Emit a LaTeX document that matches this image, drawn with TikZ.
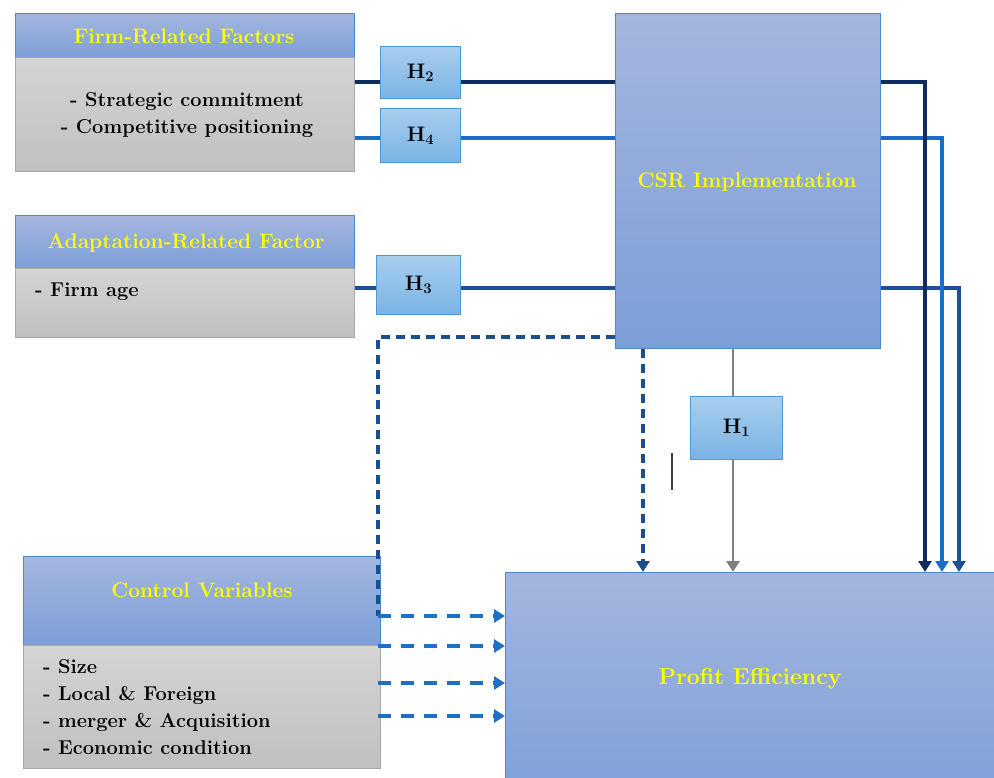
\documentclass[tikz,border=0pt]{standalone}
\usetikzlibrary{arrows.meta}
\definecolor{hdrtop}{HTML}{A4B6DE}
\definecolor{hdrbot}{HTML}{7C9ED8}
\definecolor{hdredge}{HTML}{4F86CE}
\definecolor{greytop}{HTML}{D4D4D4}
\definecolor{greybot}{HTML}{C0C0C0}
\definecolor{greyedge}{HTML}{A8A8A8}
\definecolor{htop}{HTML}{A8CEEE}
\definecolor{hbot}{HTML}{7AB3E4}
\definecolor{hedge}{HTML}{4C9AD8}
\definecolor{navy}{HTML}{0F2D5C}
\definecolor{midblue}{HTML}{1E4F97}
\definecolor{brightblue}{HTML}{1A6DC6}
\definecolor{dashnavy}{HTML}{1C4D8E}
\definecolor{dashblue}{HTML}{1D70C4}
\definecolor{gline}{HTML}{7F7F7F}
\definecolor{ytext}{HTML}{FFFF00}
\tikzset{
  bluebox/.style={draw=hdredge, line width=1pt, top color=hdrtop, bottom color=hdrbot, rectangle, inner sep=0pt, anchor=north west},
  greybox/.style={draw=greyedge, line width=1pt, top color=greytop, bottom color=greybot, rectangle, inner sep=0pt, anchor=north west},
  hbox/.style={draw=hedge, line width=1pt, top color=htop, bottom color=hbot, rectangle, inner sep=0pt, anchor=north west, font=\fontsize{21}{24}\selectfont\bfseries},
  ytxt/.style={text=ytext, font=\fontsize{21}{24}\selectfont\bfseries, inner sep=0pt},
  btxt/.style={text=black, font=\fontsize{20}{27}\selectfont\bfseries, inner sep=0pt},
  conn/.style={line width=3.4pt},
  tip/.style={-{Triangle[width=13pt,length=11pt]}},
  dashv/.style={line width=3.4pt, dash pattern=on 9pt off 6pt},
  dashh/.style={line width=3.4pt, dash pattern=on 13pt off 10pt},
}
\begin{document}
\begin{tikzpicture}[x=1pt,y=-1pt]
\useasboundingbox (0,0) rectangle (994,778);
\clip (0,0) rectangle (994,778);

% boxes
\node[bluebox, minimum width=339pt, minimum height=44pt] (f1h) at (15,13) {};
\node[greybox, minimum width=339pt, minimum height=114pt] (f1b) at (15,57) {};
\node[bluebox, minimum width=339pt, minimum height=53pt] (f2h) at (15,215) {};
\node[greybox, minimum width=339pt, minimum height=69pt] (f2b) at (15,268) {};
\node[bluebox, minimum width=357pt, minimum height=89pt] (cvh) at (23,556) {};
\node[greybox, minimum width=357pt, minimum height=123pt] (cvb) at (23,645) {};
\node[bluebox, minimum width=265pt, minimum height=335pt] (csr) at (615,13) {};
\node[bluebox, minimum width=520pt, minimum height=240pt] (pe) at (505,572) {};

\node[hbox, minimum width=80pt, minimum height=52pt] (h2) at (380,46) {H\textsubscript{2}};
\node[hbox, minimum width=80pt, minimum height=54pt] (h4) at (380,108) {H\textsubscript{4}};
\node[hbox, minimum width=84pt, minimum height=59pt] (h3) at (376,255) {H\textsubscript{3}};
\node[hbox, minimum width=92pt, minimum height=63pt] (h1) at (690,396) {H\textsubscript{1}};

% texts
\node[ytxt] (t1) at (184,36) {Firm-Related Factors};
\node[btxt, align=center] (t2) at (187,115) {- Strategic commitment\\- Competitive positioning};
\node[ytxt] (t3) at (186,243) {Adaptation-Related Factor};
\node[btxt, anchor=west] (t4) at (35,292) {- Firm age};
\node[ytxt] (t5) at (202,590) {Control Variables};
\node[btxt, align=left, anchor=north west] (t6) at (43,659) {- Size\\- Local \& Foreign\\- merger \& Acquisition\\- Economic condition};
\node[ytxt] (t7) at (747,182) {CSR Implementation};
\node[ytxt, font=\fontsize{23}{26}\selectfont\bfseries] (t8) at (750,679) {Profit Efficiency};

% coordinates
\coordinate (r2) at (0,82);
\coordinate (r4) at (0,138);
\coordinate (r3) at (0,288);
\coordinate (v2) at (925,0);
\coordinate (v4) at (942,0);
\coordinate (v3) at (959,0);
\coordinate (rd) at (0,337);
\coordinate (vd) at (378,0);
\coordinate (vm) at (643,0);
\coordinate (vg) at (733,0);
\coordinate (a1) at (0,616);
\coordinate (a2) at (0,646);
\coordinate (a3) at (0,683);
\coordinate (a4) at (0,716);

% solid connectors
\draw[conn, midblue] (f2b.east |- r3) -- (h3.west |- r3);
\draw[conn, midblue, tip] (h3.east |- r3) -- (csr.west |- r3) (csr.east |- r3) -| (v3 |- pe.north);
\draw[conn, brightblue] (f1b.east |- r4) -- (h4.west |- r4);
\draw[conn, brightblue, tip] (h4.east |- r4) -- (csr.west |- r4) (csr.east |- r4) -| (v4 |- pe.north);
\draw[conn, navy] (f1b.east |- r2) -- (h2.west |- r2);
\draw[conn, navy, tip] (h2.east |- r2) -- (csr.west |- r2) (csr.east |- r2) -| (v2 |- pe.north);

% H1
\draw[line width=2.8pt, gline] (vg |- csr.south) -- (vg |- h1.north);
\draw[line width=2.8pt, gline, tip] (vg |- h1.south) -- (vg |- pe.north);

% dashed
\draw[dashv, dashnavy] (csr.west |- rd) -- (vd |- rd) -- (vd |- a1);
\draw[dashv, dashnavy, tip] (vm |- csr.south) -- (vm |- pe.north);
\draw[dashh, dashblue, tip] (vd |- a1) -- (pe.west |- a1);
\draw[dashh, dashblue, tip] (vd |- a2) -- (pe.west |- a2);
\draw[dashh, dashblue, tip] (vd |- a3) -- (pe.west |- a3);
\draw[dashh, dashblue, tip] (vd |- a4) -- (pe.west |- a4);

% stray mark
\coordinate (s1) at (672,453);
\coordinate (s2) at (672,490);
\draw[line width=1.2pt, black!75] (s1) -- (s2);
\end{tikzpicture}
\end{document}
